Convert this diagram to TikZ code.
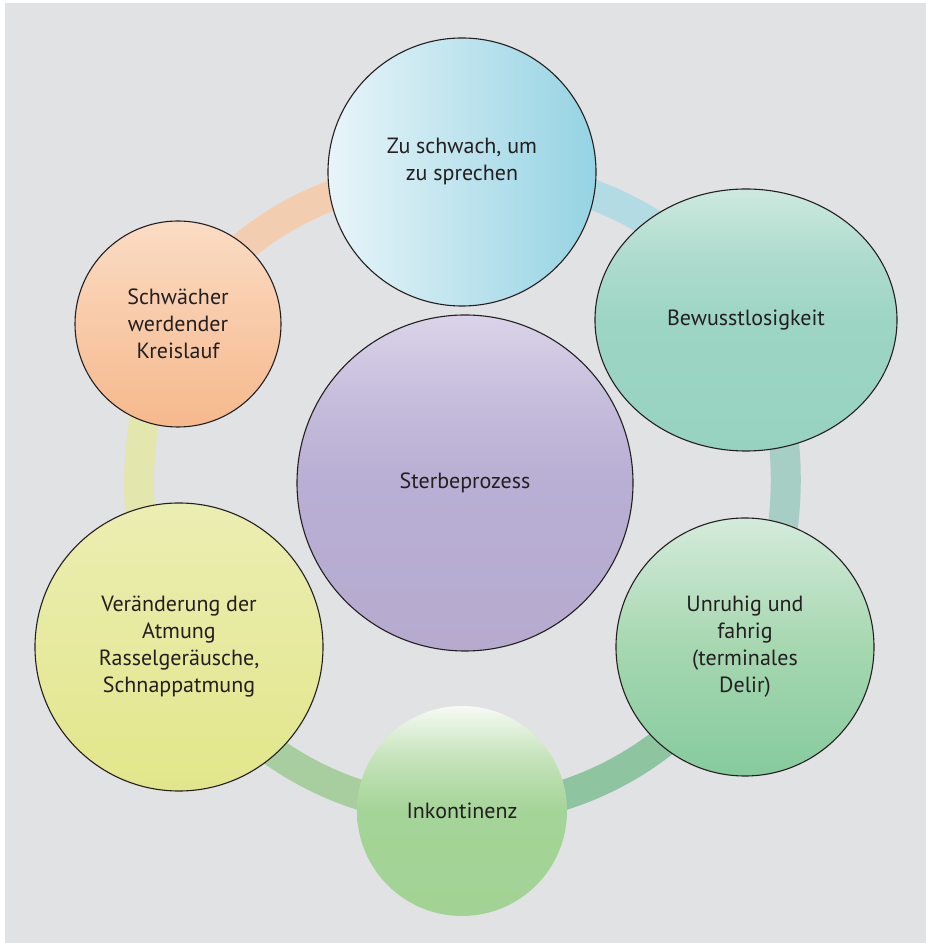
\documentclass[tikz,border=0pt]{standalone}
\usepackage{fontspec}
\setmainfont{PT Sans}
\usetikzlibrary{shapes.geometric}
\pgfdeclarelayer{back}
\pgfdeclarelayer{ringlayer}
\pgfsetlayers{back,ringlayer,main}
\definecolor{txt}{HTML}{231F20}
\definecolor{bg}{HTML}{E1E2E4}
\definecolor{bandPeach}{HTML}{F2CDB0}
\definecolor{bandBlue}{HTML}{B3DBE3}
\definecolor{bandTeal}{HTML}{A6CEC4}
\definecolor{bandDGreen}{HTML}{8EC4A0}
\definecolor{bandLGreen}{HTML}{A8CE9F}
\definecolor{bandYellow}{HTML}{E3E7AE}
\definecolor{zuL}{HTML}{E8F5F9}
\definecolor{zuR}{HTML}{95D3E3}
\definecolor{bewT}{HTML}{CDE9DF}
\definecolor{bewU}{HTML}{AFDCCE}
\definecolor{bewM}{HTML}{9DD5C4}
\definecolor{bewB}{HTML}{97D2C1}
\definecolor{stT}{HTML}{DAD4E9}
\definecolor{stU}{HTML}{C6BDDC}
\definecolor{stM}{HTML}{B9AED3}
\definecolor{stB}{HTML}{B6AACF}
\definecolor{unT}{HTML}{D4EBDB}
\definecolor{unM}{HTML}{A6D7B0}
\definecolor{unB}{HTML}{86CB9D}
\definecolor{inT}{HTML}{F6FAF3}
\definecolor{inU}{HTML}{C4E3BA}
\definecolor{inM}{HTML}{A4D497}
\definecolor{inB}{HTML}{A2D395}
\definecolor{veT}{HTML}{EBEEB2}
\definecolor{veB}{HTML}{E2E68A}
\definecolor{scT}{HTML}{FADCC4}
\definecolor{scB}{HTML}{F6B88C}
\pgfdeclarehorizontalshading{zushade}{100bp}{color(0bp)=(zuL); color(25bp)=(zuL); color(75bp)=(zuR); color(100bp)=(zuR)}
\pgfdeclareverticalshading{bewshade}{100bp}{color(0bp)=(bewB); color(25bp)=(bewB); color(50bp)=(bewM); color(62.5bp)=(bewU); color(75bp)=(bewT); color(100bp)=(bewT)}
\pgfdeclareverticalshading{stshade}{100bp}{color(0bp)=(stB); color(25bp)=(stB); color(50bp)=(stM); color(62.5bp)=(stU); color(75bp)=(stT); color(100bp)=(stT)}
\pgfdeclareverticalshading{unshade}{100bp}{color(0bp)=(unB); color(25bp)=(unB); color(50bp)=(unM); color(75bp)=(unT); color(100bp)=(unT)}
\pgfdeclareverticalshading{inshade}{100bp}{color(0bp)=(inB); color(25bp)=(inB); color(50bp)=(inM); color(62.5bp)=(inU); color(75bp)=(inT); color(100bp)=(inT)}
\pgfdeclareverticalshading{veshade}{100bp}{color(0bp)=(veB); color(25bp)=(veB); color(75bp)=(veT); color(100bp)=(veT)}
\pgfdeclareverticalshading{scshade}{100bp}{color(0bp)=(scB); color(25bp)=(scB); color(75bp)=(scT); color(100bp)=(scT)}
\begin{document}
\begin{tikzpicture}[x=1pt,y=1pt,
  txtfont/.style={font=\fontsize{22}{27}\selectfont, text=txt, align=center},
  bubble/.style={circle, draw=txt, line width=1.1pt, inner sep=0pt, txtfont},
  band/.style={line width=30pt, looseness=0.92}]
\begin{pgfonlayer}{back}
  \fill[white] (0,0) rectangle (926,943);
  \fill[bg] (5,0) rectangle (926,940);
\end{pgfonlayer}
\node[bubble, minimum size=268pt, shading=zushade,
  label={[name=zutext, txtfont, yshift=10pt]center:{Zu schwach, um\\zu sprechen}}] (zu) at (462,771) {};
\node[bubble, ellipse, minimum width=302pt, minimum height=262pt, shading=bewshade] (bew) at (746,623) {Bewusstlosigkeit};
\node[bubble, minimum size=336pt, shading=stshade] (ster) at (465,460) {Sterbeprozess};
\node[bubble, minimum size=258pt, shading=unshade] (unr) at (745,296) {Unruhig und\\fahrig\\(terminales\\Delir)};
\node[bubble, draw=none, minimum size=210pt, shading=inshade] (ink) at (462,132) {Inkontinenz};
\node[bubble, minimum size=288pt, shading=veshade] (ver) at (179,296) {Veränderung der\\Atmung\\Rasselgeräusche,\\Schnappatmung};
\node[bubble, minimum size=206pt, shading=scshade] (sch) at (178,619) {Schwächer\\werdender\\Kreislauf};
\begin{pgfonlayer}{ringlayer}
  \draw[band, bandBlue] (zu.center) to[out=0, in=120.6] (bew.center);
  \draw[band, bandTeal, looseness=0.84] (bew.center) to[out=-59.4, in=60.7] (unr.center);
  \draw[band, bandDGreen] (unr.center) to[out=-119.3, in=0] (ink.center);
  \draw[band, bandLGreen] (ink.center) to[out=180, in=-60.7] (ver.center);
  \draw[band, bandYellow, looseness=0.84] (ver.center) to[out=119.3, in=-120] (sch.center);
  \draw[band, bandPeach] (sch.center) to[out=60, in=180] (zu.center);
\end{pgfonlayer}
\end{tikzpicture}
\end{document}
